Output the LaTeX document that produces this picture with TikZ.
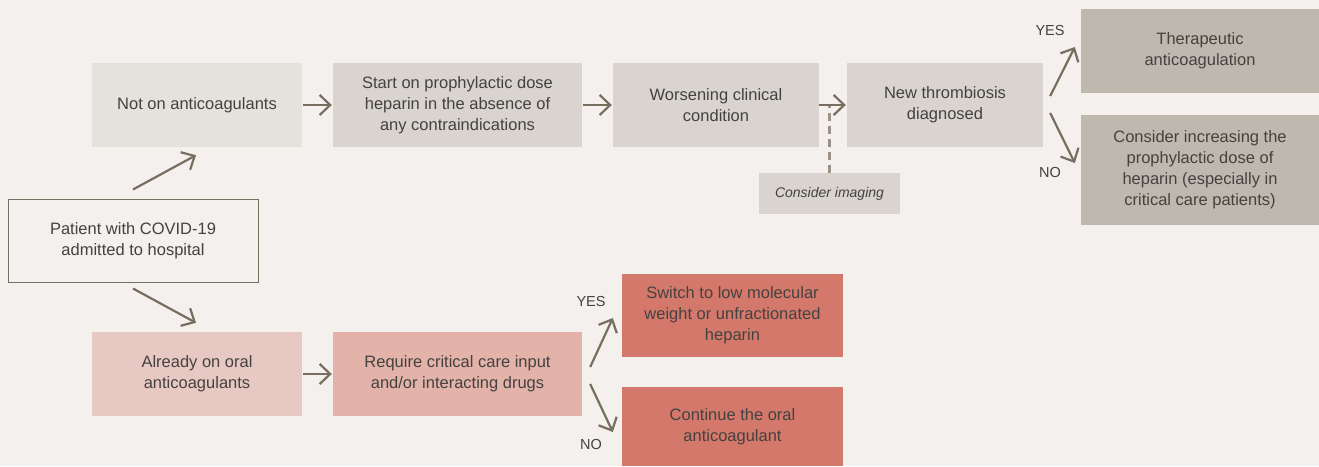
\documentclass[tikz,border=0pt]{standalone}
\usepackage{fontspec}
\setmainfont{Liberation Sans}
\usetikzlibrary{arrows.meta}
\definecolor{bg}{HTML}{F3F0ED}
\definecolor{cLight}{HTML}{E5E1DB}
\definecolor{cMid}{HTML}{D9D4CF}
\definecolor{cTaupe}{HTML}{BFB8AE}
\definecolor{cPinkL}{HTML}{E8C8C2}
\definecolor{cPinkM}{HTML}{E3B2A9}
\definecolor{cSalmon}{HTML}{D4786B}
\definecolor{cArrow}{HTML}{786E5F}
\definecolor{cText}{HTML}{444240}
\definecolor{cDash}{HTML}{9C9288}
\tikzset{
  box/.style={rectangle, inner sep=2pt, align=center, text=cText,
    font=\fontsize{16.5}{21}\selectfont},
  flow/.style={draw=cArrow, line width=2.2pt, -{Straight Barb[length=10.5pt,width=20pt,line width=2.2pt]}},
  lbl/.style={text=cText, font=\fontsize{14.5}{17}\selectfont, inner sep=0pt},
}
\begin{document}
\begin{tikzpicture}[x=1pt,y=-1pt]
\fill[bg] (0,0) rectangle (1319,466);
\useasboundingbox (0,0) rectangle (1319,466);

\node[box, fill=cLight, minimum width=210, minimum height=84] (notanti) at (197,105) {Not on anticoagulants};
\node[box, fill=cMid, minimum width=249, minimum height=84] (start) at (457.5,105) {Start on prophylactic dose\\heparin in the absence of\\any contraindications};
\node[box, fill=cMid, minimum width=206, minimum height=84] (worse) at (716,105) {Worsening clinical\\condition};
\node[box, fill=cMid, minimum width=196, minimum height=84] (newth) at (945,105) {New thrombiosis\\diagnosed};
\node[box, fill=cMid, minimum width=141, minimum height=41, font=\fontsize{14}{16}\selectfont\itshape] (imaging) at (829.5,193.5) {Consider imaging};
\node[box, fill=cTaupe, minimum width=238, minimum height=84] (thera) at (1200,51) {Therapeutic\\anticoagulation};
\node[box, fill=cTaupe, minimum width=238, minimum height=110] (consid) at (1200,170) {Consider increasing the\\prophylactic dose of\\heparin (especially in\\critical care patients)};
\node[box, fill=bg, draw=cArrow, line width=1pt, minimum width=250, minimum height=83] (patient) at (133,240.5) {Patient with COVID-19\\admitted to hospital};
\node[box, fill=cPinkL, minimum width=210, minimum height=84] (already) at (197,374) {Already on oral\\anticoagulants};
\node[box, fill=cPinkM, minimum width=249, minimum height=84] (require) at (457.5,374) {Require critical care input\\and/or interacting drugs};
\node[box, fill=cSalmon, minimum width=221, minimum height=83] (switch) at (732.5,315.5) {Switch to low molecular\\weight or unfractionated\\heparin};
\node[box, fill=cSalmon, minimum width=221, minimum height=79] (cont) at (732.5,426.5) {Continue the oral\\anticoagulant};

% dashed link to imaging
\draw[cDash, line width=2.2pt, dash pattern=on 8pt off 5pt] (imaging.north) -- (imaging.north |- worse.east);

% arrows
\draw[flow] ([shift={(0,-9)}]patient.north) -- ([shift={(-1,8)}]notanti.south);
\draw[flow] ([shift={(0,6)}]patient.south) -- ([shift={(-1,-9)}]already.north);
\draw[flow] ([xshift=1]notanti.east) -- ([xshift=-1]start.west);
\draw[flow] ([xshift=1]start.east) -- ([xshift=-1]worse.west);
\draw[flow] ([xshift=0]worse.east) -- ([xshift=-1]newth.west);
\draw[flow] ([shift={(7,-9)}]newth.east) -- ([shift={(-6,-4)}]thera.west);
\draw[flow] ([shift={(7,8)}]newth.east) -- ([shift={(-6,-7)}]consid.west);
\draw[flow] ([xshift=1]already.east) -- ([xshift=-1]require.west);
\draw[flow] ([shift={(8,-7)}]require.east) -- ([shift={(-9,2.5)}]switch.west);
\draw[flow] ([shift={(8,10)}]require.east) -- ([shift={(-9,5.5)}]cont.west);

% labels
\node[lbl] (yes1) at (1050,31) {YES};
\node[lbl] (no1) at (1050,173) {NO};
\node[lbl] (yes2) at (591,302) {YES};
\node[lbl] (no2) at (591,445) {NO};
\end{tikzpicture}
\end{document}
